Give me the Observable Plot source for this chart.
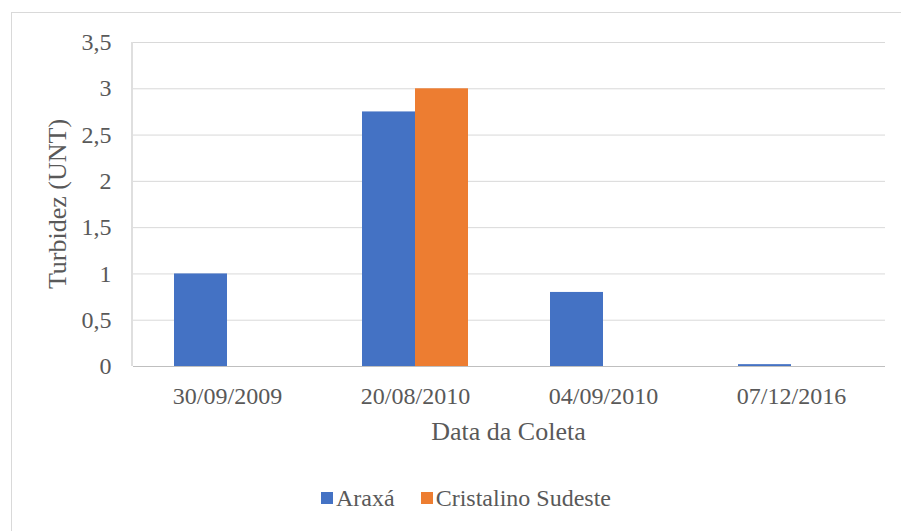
<!DOCTYPE html>
<html>
<head>
<meta charset="utf-8">
<script src="https://cdn.jsdelivr.net/npm/d3@7"></script>
<script src="https://cdn.jsdelivr.net/npm/@observablehq/plot@0.6"></script>
<style>
  body { margin: 0; background: #fff; }
  #chart {
    position: relative; width: 901px; height: 531px; overflow: hidden;
    font-family: "Liberation Serif", "Times New Roman", serif; color: #595959;
  }
  #border {
    position: absolute; left: 11px; top: 12px; width: 2000px; height: 2000px;
    border: 1px solid #d9d9d9;
  }
  #chart svg { position: absolute; left: 0; top: 0; }
  .title {
    position: absolute; font-family: "Liberation Serif", "Times New Roman", serif;
    font-size: 26px; line-height: 26px; text-align: center; white-space: nowrap;
  }
  #xtitle { left: 308.5px; top: 419px; width: 400px; }
  #ytitle { left: -91.8px; top: 191px; width: 300px; height: 26px; transform: rotate(-90deg); }
  #legend {
    position: absolute; left: 321px; top: 486px; display: flex; align-items: center;
    font-family: "Liberation Serif", "Times New Roman", serif;
    font-size: 24px; line-height: 24px; white-space: nowrap;
  }
  #legend span { font-family: "Liberation Serif", "Times New Roman", serif; }
  .swatch { display: inline-block; width: 12px; height: 12px; margin-right: 3px; }
  .item { display: flex; align-items: center; }
  .item + .item { margin-left: 26px; }
</style>
</head>
<body>
<div id="chart"><div id="border"></div></div>
<script>
// Sampling dates and turbidity readings (UNT) per site
const dates = ["30/09/2009", "20/08/2010", "04/09/2010", "07/12/2016"];
const seriesNames = ["Araxá", "Cristalino Sudeste"];
const araxa = [1.0, 2.75, 0.8, 0.02];
const cristalino = [0, 3.0, 0, 0];
const yTicks = [0, 0.5, 1, 1.5, 2, 2.5, 3, 3.5];
const colors = ["#4472C4", "#ED7D31"];

const rows = dates.flatMap((date, i) => [
  { date, series: seriesNames[0], value: araxa[i] },
  { date, series: seriesNames[1], value: cristalino[i] }
]);

const commaFormat = d => String(d).replace(".", ",");

const plot = Plot.plot({
  width: 901,
  height: 460,
  marginTop: 42,
  marginBottom: 94,
  marginLeft: 132,
  marginRight: 16,
  style: {
    fontFamily: '"Liberation Serif", "Times New Roman", serif',
    fontSize: "24px",
    color: "#595959",
    background: "transparent",
    overflow: "visible"
  },
  fx: { domain: dates, padding: 0, label: null },
  x: { domain: seriesNames, paddingInner: 0, paddingOuter: 0.743, axis: null },
  y: { domain: [0, 3.5], label: null },
  color: { domain: seriesNames, range: colors },
  marks: [
    Plot.gridY(yTicks, { stroke: "#d9d9d9", strokeOpacity: 1 }),
    Plot.axisY(yTicks, {
      tickSize: 0, tickPadding: 22, tickFormat: commaFormat,
      label: null, fontSize: 24
    }),
    Plot.axisFx({ anchor: "bottom", tickSize: 0, tickPadding: 20, label: null, fontSize: 24 }),
    Plot.barY(rows, { fx: "date", x: "series", y: "value", fill: "series" }),
    Plot.ruleY([0], { stroke: "#bfbfbf" })
  ]
});

// Vertical value-axis line along the left edge of the frame
const fxScale = plot.scale("fx");
const yScale = plot.scale("y");
d3.select(plot).append("line")
  .attr("x1", fxScale.range[0]).attr("x2", fxScale.range[0])
  .attr("y1", yScale.range[0]).attr("y2", yScale.range[1])
  .attr("stroke", "#bfbfbf");

const chart = document.getElementById("chart");
chart.appendChild(plot);

// Axis titles
const xTitle = document.createElement("div");
xTitle.id = "xtitle"; xTitle.className = "title"; xTitle.textContent = "Data da Coleta";
chart.appendChild(xTitle);
const yTitle = document.createElement("div");
yTitle.id = "ytitle"; yTitle.className = "title"; yTitle.textContent = "Turbidez (UNT)";
chart.appendChild(yTitle);

// Legend
const legend = document.createElement("div");
legend.id = "legend";
seriesNames.forEach((name, i) => {
  const item = document.createElement("span");
  item.className = "item";
  const sw = document.createElement("span");
  sw.className = "swatch";
  sw.style.background = colors[i];
  const label = document.createElement("span");
  label.textContent = name;
  item.appendChild(sw);
  item.appendChild(label);
  legend.appendChild(item);
});
chart.appendChild(legend);
</script>
</body>
</html>
